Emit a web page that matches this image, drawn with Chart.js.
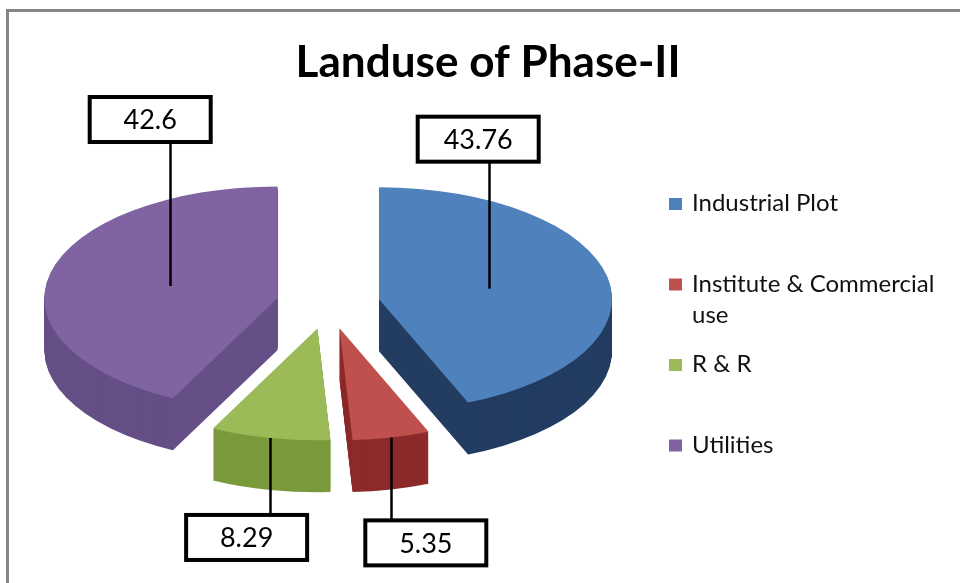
<!DOCTYPE html>
<html>
<head>
<meta charset="utf-8">
<title>Landuse of Phase-II</title>
<script src="https://cdn.jsdelivr.net/npm/chart.js@4.4.0/dist/chart.umd.min.js"></script>
<style>
  html, body { margin: 0; padding: 0; background: #fff; }
  #wrap { width: 960px; height: 583px; position: relative; }
</style>
</head>
<body>
<div id="wrap"><canvas id="landuse"></canvas></div>
<script>
// land use of phase II (share of total area)
const chartTitle = 'Landuse of Phase-II';
const landuseLabels = ['Industrial Plot', 'Institute & Commercial use', 'R & R', 'Utilities'];
const landuseValues = [43.76, 5.35, 8.29, 42.6];
const topColors = ['#4F81BD', '#C0504D', '#9BBB59', '#8064A2'];
const sideColors = ['#233C62', '#8C2B2A', '#7A9A3C', '#654F86'];

// fake 3d look
const TILT = 0.48;       // vertical squash of the top face
const DEPTH = 52;        // wall height, px
const EXPLODE = 52;      // how far each slice is pulled out
const PIE_RADIUS = 233;

// value boxes: f = where on the radius the leader starts,
// dx/dy = box left edge / box edge relative to that point
const labelSpots = [
  { f: 0.48,  dx: -71, dy: -127 },
  { f: 1.0,   dx: -26, dy: 83 },
  { f: 1.0,   dx: -84, dy: 77 },
  { f: 0.475, dx: -80, dy: -144 }
];

function midAngle(arc) {
  return (arc.startAngle + arc.endAngle) / 2;
}

function sliceTransform(ctx, arc, cy, dz) {
  ctx.translate(0, cy + dz);
  ctx.scale(1, TILT);
  ctx.translate(0, -cy);
  const mid = midAngle(arc);
  ctx.translate(Math.cos(mid) * EXPLODE, Math.sin(mid) * EXPLODE);
}

function anchorOf(arc, f) {
  const mid = midAngle(arc);
  const r = EXPLODE + arc.outerRadius * f;
  return { x: arc.x + Math.cos(mid) * r, y: arc.y + Math.sin(mid) * r * TILT };
}

// draws walls first (stacked copies in a darker colour), then the top faces
const pie3d = {
  id: 'pie3d',
  beforeDatasetsDraw(chart) {
    const ctx = chart.ctx;
    const arcs = chart.getDatasetMeta(0).data;
    const cy = arcs[0].y;
    for (let dz = DEPTH; dz >= 1; dz--) {
      arcs.forEach((arc, i) => {
        const side = Object.create(arc);
        side.options = Object.assign({}, arc.options, { backgroundColor: sideColors[i] });
        ctx.save();
        sliceTransform(ctx, arc, cy, dz);
        side.draw(ctx);
        ctx.restore();
      });
    }
    arcs.forEach(arc => {
      ctx.save();
      sliceTransform(ctx, arc, cy, 0);
      arc.draw(ctx);
      ctx.restore();
    });
    return false;
  }
};

function wrapText(ctx, text, maxW) {
  const words = text.split(' ');
  const lines = [];
  let line = '';
  words.forEach(w => {
    const test = line ? line + ' ' + w : w;
    if (ctx.measureText(test).width > maxW && line) {
      lines.push(line);
      line = w;
    } else {
      line = test;
    }
  });
  lines.push(line);
  return lines;
}

const decor = {
  id: 'decor',
  afterDraw(chart) {
    const ctx = chart.ctx;
    const arcs = chart.getDatasetMeta(0).data;

    // frame
    ctx.save();
    ctx.strokeStyle = '#868686';
    ctx.lineWidth = 3;
    ctx.beginPath();
    ctx.moveTo(7.5, 600);
    ctx.lineTo(7.5, 10.5);
    ctx.lineTo(970, 10.5);
    ctx.stroke();
    ctx.restore();

    // title
    ctx.save();
    ctx.font = 'bold 44px Lato';
    ctx.fillStyle = '#000';
    ctx.textBaseline = 'alphabetic';
    const tw = ctx.measureText(chartTitle).width;
    const sx = 385 / tw;
    ctx.translate(488, 77);
    ctx.scale(sx, 1);
    ctx.textAlign = 'center';
    ctx.fillText(chartTitle, 0, 0);
    ctx.restore();

    // legend
    ctx.save();
    ctx.font = '24px Lato';
    ctx.textAlign = 'left';
    chart.data.labels.forEach((lab, i) => {
      const base = 211 + i * 80.5;
      ctx.fillStyle = topColors[i];
      ctx.fillRect(669, base - 13, 13, 12);
      ctx.fillStyle = '#111';
      wrapText(ctx, lab, 262).forEach((ln, j) => ctx.fillText(ln, 692, base + j * 31));
    });
    ctx.restore();

    // value boxes with leader lines
    ctx.save();
    ctx.font = '27px Lato';
    ctx.textAlign = 'center';
    ctx.textBaseline = 'middle';
    const boxW = 121, boxH = 45;
    arcs.forEach((arc, i) => {
      const spot = labelSpots[i];
      const a = anchorOf(arc, spot.f);
      const left = a.x + spot.dx;
      const top = spot.dy < 0 ? a.y + spot.dy - boxH : a.y + spot.dy;
      const edge = spot.dy < 0 ? top + boxH : top;
      ctx.strokeStyle = '#000';
      ctx.lineWidth = 2.5;
      ctx.beginPath();
      ctx.moveTo(Math.round(a.x) + 0.5, a.y);
      ctx.lineTo(Math.round(a.x) + 0.5, edge);
      ctx.stroke();
      ctx.fillStyle = '#fff';
      ctx.fillRect(left, top, boxW, boxH);
      ctx.lineWidth = 4;
      ctx.strokeRect(left, top, boxW, boxH);
      ctx.fillStyle = '#000';
      ctx.fillText(String(chart.data.datasets[0].data[i]), left + boxW / 2, top + boxH / 2 + 1);
    });
    ctx.restore();
  }
};

new Chart(document.getElementById('landuse'), {
  type: 'pie',
  data: {
    labels: landuseLabels,
    datasets: [{
      data: landuseValues,
      backgroundColor: topColors,
      borderWidth: 0,
      clip: false
    }]
  },
  options: {
    responsive: true,
    maintainAspectRatio: false,
    animation: false,
    radius: PIE_RADIUS,
    events: [],
    layout: { padding: { left: 0, right: 304, top: 25, bottom: 0 } },
    plugins: {
      legend: { display: false },
      title: { display: false },
      tooltip: { enabled: false }
    }
  },
  plugins: [pie3d, decor]
});
</script>
</body>
</html>
